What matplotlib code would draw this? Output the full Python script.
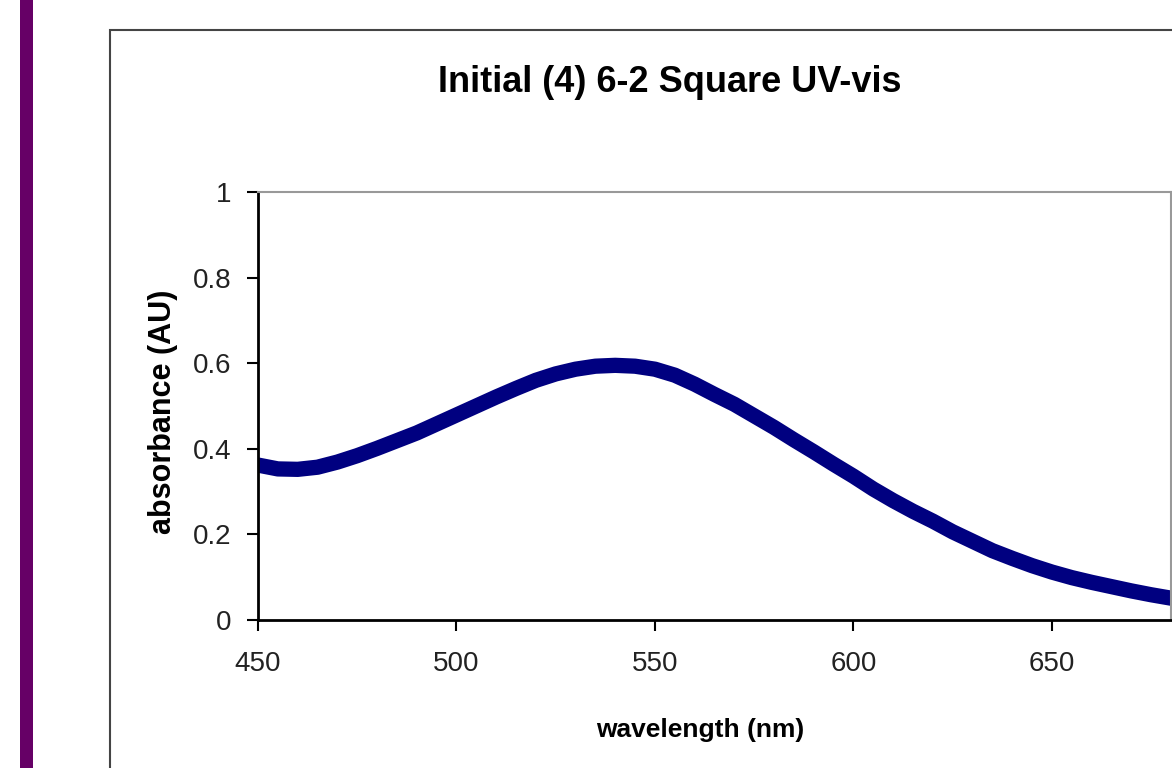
import matplotlib
matplotlib.use('Agg')
import matplotlib.pyplot as plt
from matplotlib.patches import Rectangle

# absorbance, every 5 nm
wavelength = [450, 455, 460, 465, 470, 475, 480, 485, 490, 495,
              500, 505, 510, 515, 520, 525, 530, 535, 540, 545,
              550, 555, 560, 565, 570, 575, 580, 585, 590, 595,
              600, 605, 610, 615, 620, 625, 630, 635, 640, 645,
              650, 655, 660, 665, 670, 675, 680]
absorbance = [0.362, 0.353, 0.352, 0.357, 0.369, 0.384, 0.401, 0.419, 0.437, 0.458,
              0.479, 0.500, 0.521, 0.541, 0.560, 0.575, 0.586, 0.593, 0.595, 0.593,
              0.586, 0.572, 0.551, 0.527, 0.504, 0.477, 0.450, 0.421, 0.393, 0.364,
              0.336, 0.306, 0.279, 0.254, 0.231, 0.206, 0.184, 0.162, 0.144, 0.127,
              0.112, 0.099, 0.088, 0.078, 0.068, 0.059, 0.051]

x_ticks = [450, 500, 550, 600, 650]
y_ticks = [0, 0.2, 0.4, 0.6, 0.8, 1]
y_tick_labels = ['0', '0.2', '0.4', '0.6', '0.8', '1']

font = ['Liberation Sans', 'DejaVu Sans']

W, H = 1172, 768
fig = plt.figure(figsize=(W / 100, H / 100), dpi=100)

# purple strip on the far left and the chart-area frame
fig.patches.append(Rectangle((20 / W, 0), 13 / W, 1, transform=fig.transFigure,
                             facecolor='#660066', edgecolor='none'))
fig.patches.append(Rectangle((110 / W, -0.1), 2, (H - 30) / H + 0.1, transform=fig.transFigure,
                             facecolor='none', edgecolor='#444444', linewidth=1.5))

ax = fig.add_axes([258 / W, 1 - 620 / H, (1171 - 258) / W, (620 - 192) / H])
ax.plot(wavelength, absorbance, color='#000080', linewidth=11,
        solid_capstyle='round', solid_joinstyle='round')

ax.set_xlim(450, 680)
ax.set_ylim(0, 1)
ax.set_xticks(x_ticks)
ax.set_yticks(y_ticks)
ax.set_yticklabels(y_tick_labels)

for lbl in ax.get_xticklabels() + ax.get_yticklabels():
    lbl.set_family(font)
    lbl.set_fontsize(20)
    lbl.set_color('#222222')

ax.tick_params(axis='x', direction='out', length=8, width=1.5, pad=14)
ax.tick_params(axis='y', direction='out', length=8, width=1.5, pad=11)

ax.spines['left'].set_linewidth(2)
ax.spines['bottom'].set_linewidth(2)
ax.spines['top'].set_color('#999999')
ax.spines['right'].set_color('#999999')
ax.spines['top'].set_linewidth(1.5)
ax.spines['right'].set_linewidth(1.5)

ax.set_xlabel('wavelength (nm)', family=font, fontweight='bold', fontsize=19)
ax.set_ylabel('absorbance (AU)', family=font, fontweight='bold', fontsize=22)
ax.xaxis.set_label_coords((700 - 258) / 913, (620 - 730) / 428)
ax.yaxis.set_label_coords((163 - 258) / 913, (620 - 412) / 428)
ax.xaxis.label.set_va('center')
ax.yaxis.label.set_va('center')

fig.text(670 / W, 1 - 83 / H, 'Initial (4) 6-2 Square UV-vis', family=font,
         fontweight='bold', fontsize=26, ha='center', va='center')

fig.savefig('out.png', dpi=100)
